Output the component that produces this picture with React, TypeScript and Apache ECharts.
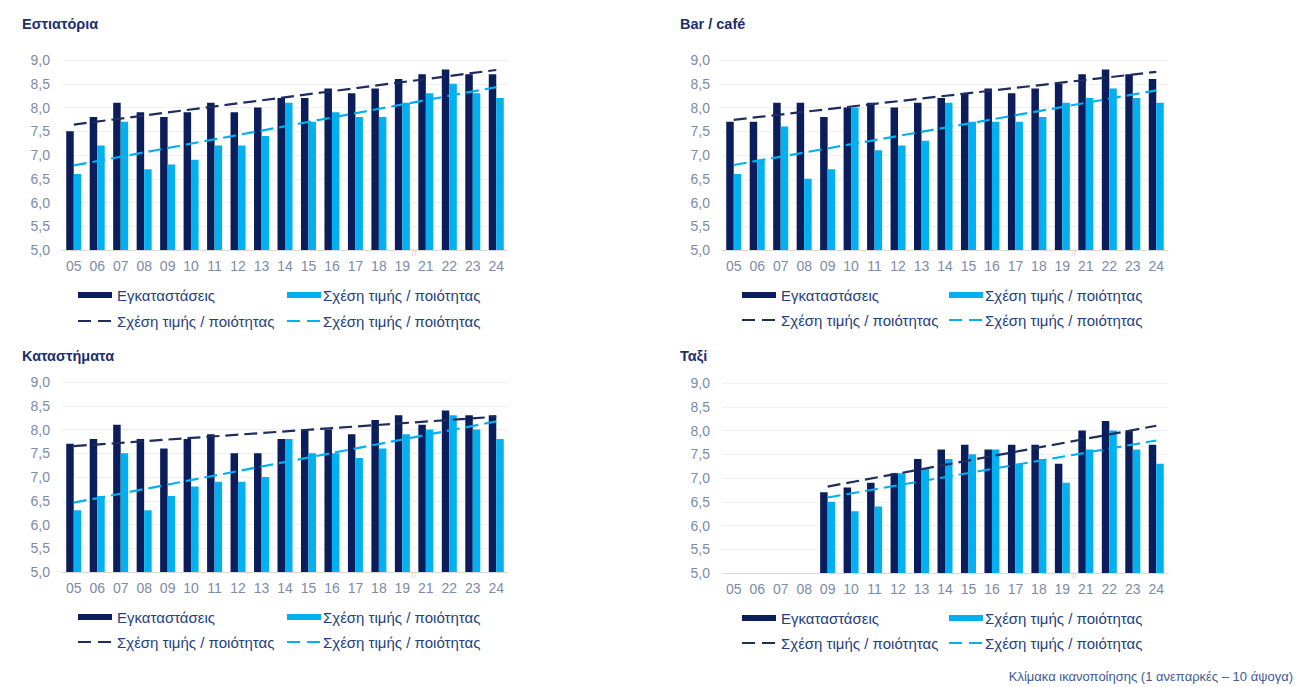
import React, { useEffect, useRef } from "react";
import * as echarts from "echarts";

const categories = ["05", "06", "07", "08", "09", "10", "11", "12", "13", "14", "15", "16", "17", "18", "19", "21", "22", "23", "24"];

const titles = ["Εστιατόρια", "Bar / café", "Καταστήματα", "Ταξί"];
const legendBar1 = "Εγκαταστάσεις";
const legendBar2 = "Σχέση τιμής / ποιότητας";
const legendTrend1 = "Σχέση τιμής / ποιότητας";
const legendTrend2 = "Σχέση τιμής / ποιότητας";
const footnote = "Κλίμακα ικανοποίησης (1 ανεπαρκές – 10 άψογα)";

const restDark = [7.5, 7.8, 8.1, 7.9, 7.8, 7.9, 8.1, 7.9, 8.0, 8.2, 8.2, 8.4, 8.3, 8.4, 8.6, 8.7, 8.8, 8.7, 8.7];
const restLight = [6.6, 7.2, 7.7, 6.7, 6.8, 6.9, 7.2, 7.2, 7.4, 8.1, 7.7, 7.9, 7.8, 7.8, 8.1, 8.3, 8.5, 8.3, 8.2];
const restTrendDark = [7.64, 8.79];
const restTrendLight = [6.78, 8.43];

const barDark = [7.7, 7.7, 8.1, 8.1, 7.8, 8.0, 8.1, 8.0, 8.1, 8.2, 8.3, 8.4, 8.3, 8.4, 8.5, 8.7, 8.8, 8.7, 8.6];
const barLight = [6.6, 6.9, 7.6, 6.5, 6.7, 8.0, 7.1, 7.2, 7.3, 8.1, 7.7, 7.7, 7.7, 7.8, 8.1, 8.2, 8.4, 8.2, 8.1];
const barTrendDark = [7.74, 8.75];
const barTrendLight = [6.79, 8.36];

const shopDark = [7.7, 7.8, 8.1, 7.8, 7.6, 7.8, 7.9, 7.5, 7.5, 7.8, 8.0, 8.0, 7.9, 8.2, 8.3, 8.1, 8.4, 8.3, 8.3];
const shopLight = [6.3, 6.6, 7.5, 6.3, 6.6, 6.8, 6.9, 6.9, 7.0, 7.8, 7.5, 7.5, 7.4, 7.6, 7.9, 8.0, 8.3, 8.0, 7.8];
const shopTrendDark = [7.65, 8.27];
const shopTrendLight = [6.46, 8.17];

const taxiDark = [null, null, null, null, 6.7, 6.8, 6.9, 7.1, 7.4, 7.6, 7.7, 7.6, 7.7, 7.7, 7.3, 8.0, 8.2, 8.0, 7.7];
const taxiLight = [null, null, null, null, 6.5, 6.3, 6.4, 7.1, 7.2, 7.4, 7.5, 7.6, 7.3, 7.4, 6.9, 7.6, 8.0, 7.6, 7.3];
const taxiTrendDark = [6.82, 8.1];
const taxiTrendLight = [6.59, 7.79];

const DARK = "#0b1d5a";
const LIGHT = "#00b0f0";
const TREND_DARK = "#1e2c5e";
const TITLE_COLOR = "#1b2f6e";
const LEGEND_COLOR = "#24407f";
const AXIS_COLOR = "#7d8aa8";
const FONT = "'Liberation Sans', Arial, sans-serif";

function trendData(start: number, ends: number[]) {
  return categories.map((_, i) => (i === start ? ends[0] : i === categories.length - 1 ? ends[1] : null));
}

const panels = [
  { dark: restDark, light: restLight, td: restTrendDark, tl: restTrendLight, start: 0 },
  { dark: barDark, light: barLight, td: barTrendDark, tl: barTrendLight, start: 0 },
  { dark: shopDark, light: shopLight, td: shopTrendDark, tl: shopTrendLight, start: 0 },
  { dark: taxiDark, light: taxiLight, td: taxiTrendDark, tl: taxiTrendLight, start: 4 },
];

const layout = [
  { left: 62, top: 60, titleX: 22, titleY: 24, legX: 78, legX2: 287, legY1: 295, legY2: 321 },
  { left: 722, top: 60, titleX: 680, titleY: 24, legX: 742, legX2: 949, legY1: 295, legY2: 320 },
  { left: 62, top: 382, titleX: 22, titleY: 356, legX: 78, legX2: 287, legY1: 617, legY2: 642 },
  { left: 722, top: 383, titleX: 680, titleY: 356, legX: 742, legX2: 949, legY1: 618, legY2: 643 },
];

const GRID_W = 446;
const GRID_H = 190;

export default function App() {
  const ref = useRef<HTMLDivElement>(null);
  useEffect(() => {
    if (!ref.current) return;
    const chart = echarts.init(ref.current, undefined, { renderer: "svg" });
    const grid: any[] = [];
    const xAxis: any[] = [];
    const yAxis: any[] = [];
    const series: any[] = [];
    const graphic: any[] = [];

    panels.forEach((p, i) => {
      const L = layout[i];
      grid.push({ left: L.left, top: L.top, width: GRID_W, height: GRID_H });
      xAxis.push({
        type: "category",
        gridIndex: i,
        data: categories,
        axisLine: { lineStyle: { color: "#d9d9d9", width: 1 } },
        axisTick: { show: false },
        axisLabel: { color: AXIS_COLOR, fontSize: 14, fontFamily: FONT, margin: 9, interval: 0 },
      });
      yAxis.push({
        type: "value",
        gridIndex: i,
        min: 5,
        max: 9,
        interval: 0.5,
        axisLine: { show: false },
        axisTick: { show: false },
        splitLine: { lineStyle: { color: "#efefef", width: 1 } },
        axisLabel: {
          color: AXIS_COLOR,
          fontSize: 14,
          fontFamily: FONT,
          margin: 12,
          formatter: (v: number) => v.toFixed(1).replace(".", ","),
        },
      });
      series.push({
        type: "bar",
        xAxisIndex: i,
        yAxisIndex: i,
        data: p.dark,
        barWidth: 7.5,
        barGap: "0%",
        itemStyle: { color: DARK },
        z: 2,
      });
      series.push({
        type: "bar",
        xAxisIndex: i,
        yAxisIndex: i,
        data: p.light,
        barWidth: 7.5,
        barGap: "0%",
        itemStyle: { color: LIGHT },
        z: 2,
      });
      series.push({
        type: "line",
        xAxisIndex: i,
        yAxisIndex: i,
        data: trendData(p.start, p.td),
        connectNulls: true,
        symbol: "none",
        lineStyle: { color: TREND_DARK, width: 2.2, type: [13, 6] },
        z: 5,
      });
      series.push({
        type: "line",
        xAxisIndex: i,
        yAxisIndex: i,
        data: trendData(p.start, p.tl),
        connectNulls: true,
        symbol: "none",
        lineStyle: { color: LIGHT, width: 2.2, type: [13, 6] },
        z: 5,
      });

      // title
      graphic.push({
        type: "text",
        x: L.titleX,
        y: L.titleY,
        style: { text: titles[i], fill: TITLE_COLOR, font: `bold 14.5px ${FONT}`, verticalAlign: "middle" },
      });
      // axis break mark between 19 and 21
      graphic.push({
        type: "text",
        x: L.left + (GRID_W / categories.length) * 15,
        y: L.top + GRID_H + 3,
        style: { text: "//", fill: "#d0d0d0", font: `9px ${FONT}`, align: "center", verticalAlign: "middle" },
      });
      // legend row 1
      graphic.push({ type: "rect", shape: { x: L.legX, y: L.legY1 - 3, width: 34, height: 6 }, style: { fill: DARK } });
      graphic.push({
        type: "text",
        x: L.legX + 39,
        y: L.legY1,
        style: { text: legendBar1, fill: LEGEND_COLOR, font: `15px ${FONT}`, verticalAlign: "middle" },
      });
      graphic.push({ type: "rect", shape: { x: L.legX2, y: L.legY1 - 3, width: 34, height: 6 }, style: { fill: LIGHT } });
      graphic.push({
        type: "text",
        x: L.legX2 + 36,
        y: L.legY1,
        style: { text: legendBar2, fill: LEGEND_COLOR, font: `15px ${FONT}`, verticalAlign: "middle" },
      });
      // legend row 2
      graphic.push({
        type: "line",
        shape: { x1: L.legX, y1: L.legY2, x2: L.legX + 34, y2: L.legY2 },
        style: { stroke: TREND_DARK, lineWidth: 2, lineDash: [13, 7] },
      });
      graphic.push({
        type: "text",
        x: L.legX + 39,
        y: L.legY2,
        style: { text: legendTrend1, fill: LEGEND_COLOR, font: `15px ${FONT}`, verticalAlign: "middle" },
      });
      graphic.push({
        type: "line",
        shape: { x1: L.legX2, y1: L.legY2, x2: L.legX2 + 34, y2: L.legY2 },
        style: { stroke: LIGHT, lineWidth: 2, lineDash: [13, 7] },
      });
      graphic.push({
        type: "text",
        x: L.legX2 + 36,
        y: L.legY2,
        style: { text: legendTrend2, fill: LEGEND_COLOR, font: `15px ${FONT}`, verticalAlign: "middle" },
      });
    });

    graphic.push({
      type: "text",
      x: 1293,
      y: 676,
      style: { text: footnote, fill: "#3d5a96", font: `13px ${FONT}`, align: "right", verticalAlign: "middle" },
    });

    chart.setOption({
      animation: false,
      backgroundColor: "#ffffff",
      grid,
      xAxis,
      yAxis,
      series,
      graphic,
    });
    return () => chart.dispose();
  }, []);

  return <div ref={ref} style={{ position: "absolute", left: 0, top: 0, width: 1296, height: 687 }} />;
}
